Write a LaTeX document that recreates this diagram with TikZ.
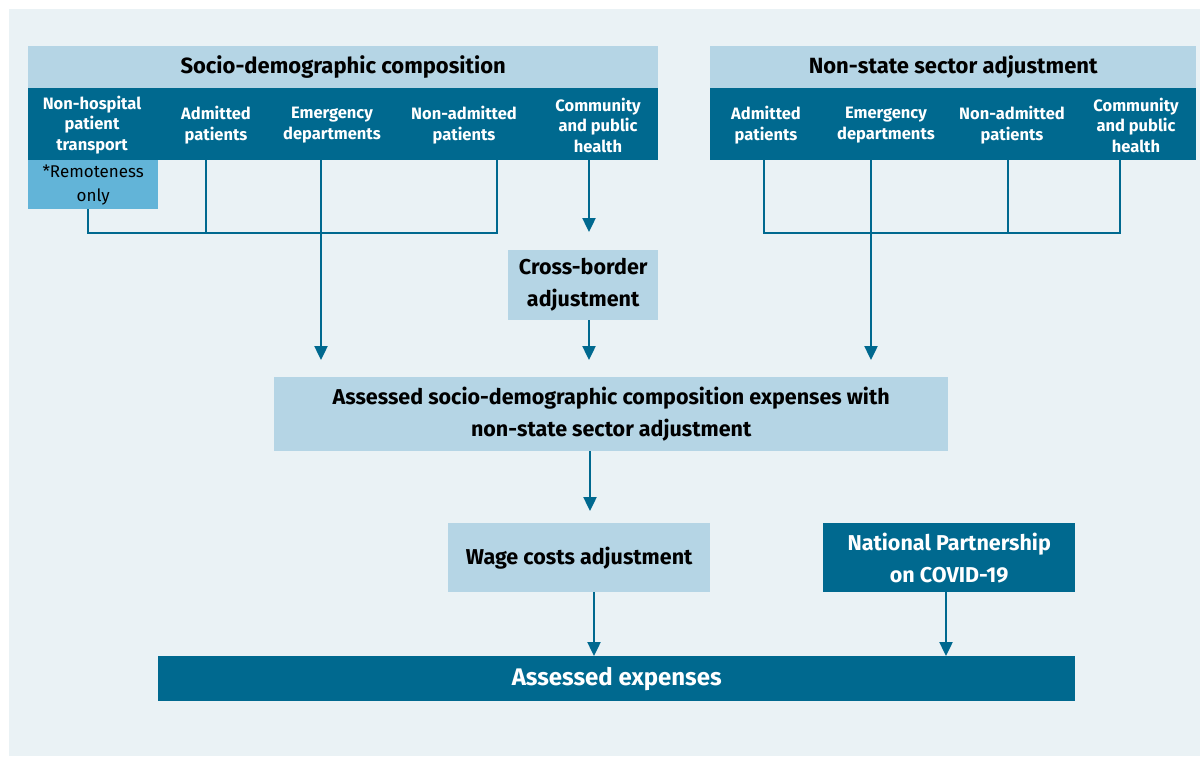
\documentclass[tikz,border=0pt]{standalone}
\usepackage{fontspec}
\setmainfont{Fira Sans}
\usetikzlibrary{positioning}
\usetikzlibrary{arrows.meta}
\definecolor{flowdark}{HTML}{00698F}
\definecolor{flowlight}{HTML}{B5D5E5}
\definecolor{flowmid}{HTML}{62B4D8}
\definecolor{flowbg}{HTML}{EAF2F5}
\tikzstyle{lightbox}=[
  fill=flowlight,
  inner sep=0pt,
  align=center,
  text=black,
  font=\bfseries\fontsize{21.5}{32}\selectfont
]
\tikzstyle{darkbox}=[
  fill=flowdark,
  inner sep=0pt,
  align=center,
  text=white,
  font=\bfseries\fontsize{21.5}{32}\selectfont
]
\tikzstyle{headbox}=[lightbox,font=\bfseries\fontsize{22}{24}\selectfont]
\tikzstyle{collabel}=[
  text=white,
  inner sep=0pt,
  align=center,
  font=\bfseries\fontsize{16.5}{20.5}\selectfont
]
\tikzstyle{remotebox}=[
  fill=flowmid,
  inner sep=0pt,
  align=center,
  text=black,
  font=\fontsize{17}{24}\selectfont
]
\tikzstyle{link}=[draw=flowdark,line width=2.4pt]
\tikzstyle{flow}=[link,-{Triangle[width=13pt,length=14pt]}]

\begin{document}
\begin{tikzpicture}[x=1pt,y=-1pt]
    \useasboundingbox (0,0) rectangle (1200,756);
    \fill[flowbg] (9,9) rectangle (1200,756);
    % socio-demographic composition
    \node[headbox,anchor=north west,minimum width=630pt,minimum height=42pt] (sdc) at (28,46) {Socio-demographic composition};
    \node[darkbox,anchor=north west,minimum width=630pt,minimum height=72pt] (sdcband) at (28,88) {};
    \node[collabel] (sdcnhpt) at (92,125) {Non-hospital\\patient\\transport};
    \node[collabel] (sdcadm) at (216,125) {Admitted\\patients};
    \node[collabel] (sdcemd) at (332,125) {Emergency\\departments};
    \node[collabel] (sdcnadm) at (464,125) {Non-admitted\\patients};
    \node[collabel] (sdccph) at (598,125) {Community\\and public\\health};
    \node[remotebox,anchor=north west,minimum width=130pt,minimum height=49pt] (remote) at (28,160) {*Remoteness\\only};
    % non-state sector adjustment
    \node[headbox,anchor=north west,minimum width=486pt,minimum height=42pt] (nss) at (710,46) {Non-state sector adjustment};
    \node[darkbox,anchor=north west,minimum width=486pt,minimum height=72pt] (nssband) at (710,88) {};
    \node[collabel] (nssadm) at (766,125) {Admitted\\patients};
    \node[collabel] (nssemd) at (886,125) {Emergency\\departments};
    \node[collabel] (nssnadm) at (1012,125) {Non-admitted\\patients};
    \node[collabel] (nsscph) at (1136,125) {Community\\and public\\health};
    % lower boxes
    \node[lightbox,anchor=north west,minimum width=150pt,minimum height=70pt] (xborder) at (508,250) {Cross-border\\adjustment};
    \node[lightbox,anchor=north west,minimum width=674pt,minimum height=74pt] (assess) at (274,377) {Assessed socio-demographic composition expenses with\\non-state sector adjustment};
    \node[lightbox,anchor=north west,minimum width=262pt,minimum height=69pt] (wage) at (448,523) {Wage costs adjustment};
    \node[darkbox,anchor=north west,minimum width=252pt,minimum height=69pt] (covid) at (823,523) {National Partnership\\on COVID-19};
    \node[darkbox,anchor=north west,minimum width=917pt,minimum height=45pt,font=\bfseries\fontsize{24}{28}\selectfont] (expenses) at (158,656) {Assessed expenses};
    % joins under the bands
    \coordinate (sdcL) at (88,233);
    \coordinate (sdcR) at (497,233);
    \coordinate (sdcadmfoot) at (206,233);
    \draw[link] (remote.south -| sdcL) -- (sdcL) -- (sdcR) -- (sdcR |- sdcband.south);
    \draw[link] (sdcadmfoot |- sdcband.south) -- (sdcadmfoot);
    \coordinate (nssL) at (764,233);
    \coordinate (nssR) at (1120,233);
    \coordinate (nssnadmfoot) at (1008,233);
    \draw[link] (nssL |- nssband.south) -- (nssL) -- (nssR) -- (nssR |- nssband.south);
    \draw[link] (nssnadmfoot |- nssband.south) -- (nssnadmfoot);
    % arrows
    \coordinate (emdtip) at (321,360);
    \coordinate (cphtip) at (589,232);
    \coordinate (xbtip) at (589,360);
    \coordinate (nssemdtip) at (871,360);
    \coordinate (assesstip) at (590,511);
    \coordinate (wagetip) at (594,656);
    \coordinate (covidtip) at (946,656);
    \draw[flow] (emdtip |- sdcband.south) -- (emdtip);
    \draw[flow] (cphtip |- sdcband.south) -- (cphtip);
    \draw[flow] (xbtip |- xborder.south) -- (xbtip);
    \draw[flow] (nssemdtip |- nssband.south) -- (nssemdtip);
    \draw[flow] (assesstip |- assess.south) -- (assesstip);
    \draw[flow] (wagetip |- wage.south) -- (wagetip);
    \draw[flow] (covidtip |- covid.south) -- (covidtip);
\end{tikzpicture}
\end{document}
